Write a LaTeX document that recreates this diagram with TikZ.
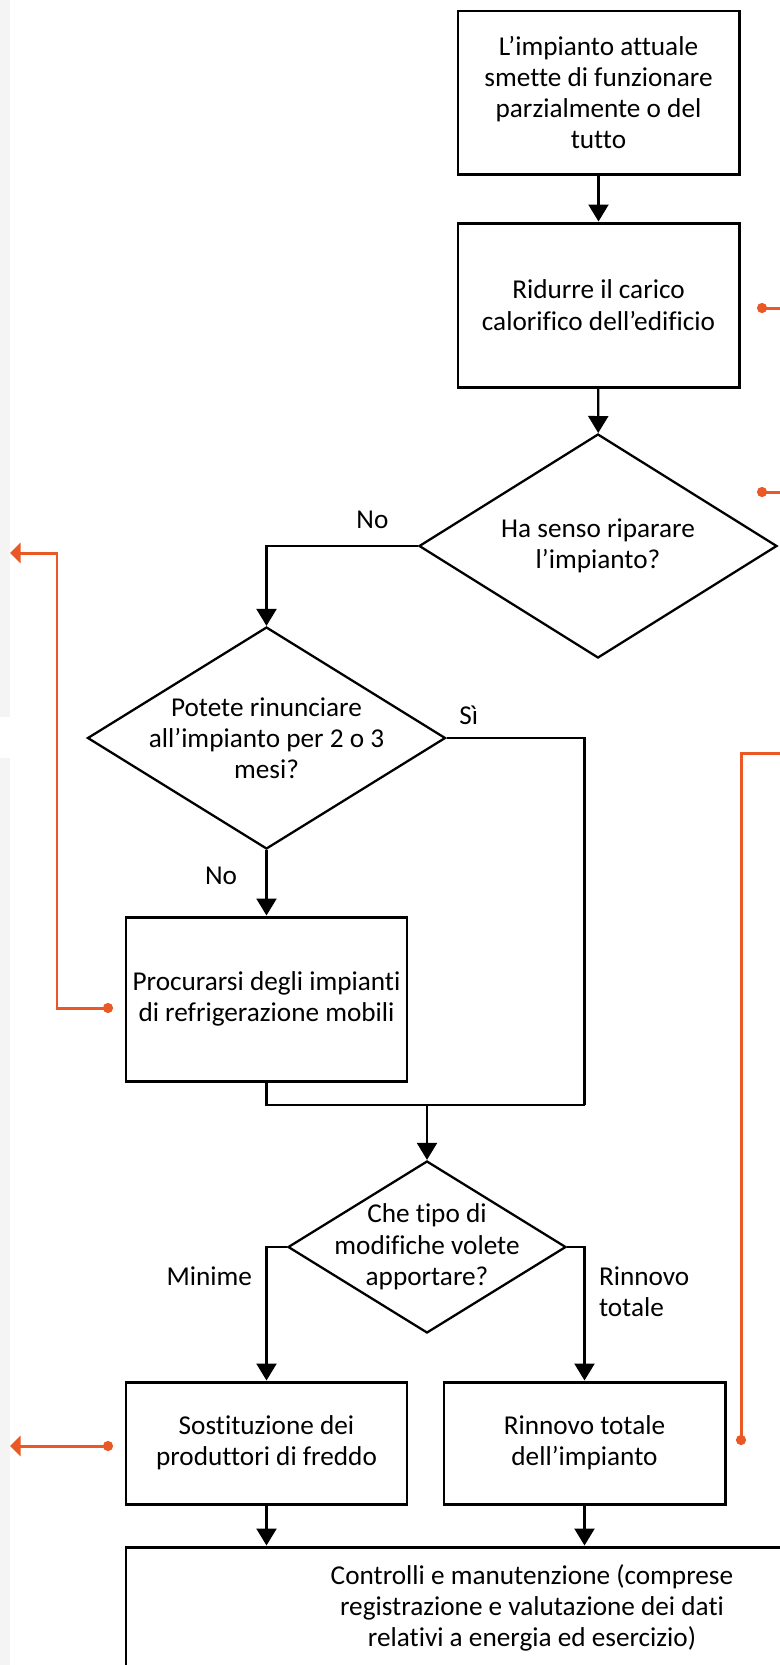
\documentclass[tikz,border=0pt]{standalone}
\usepackage{fontspec}
\setmainfont{Carlito}[Ligatures={NoCommon}]
\usetikzlibrary{shapes.geometric,arrows.meta}
\definecolor{accent}{RGB}{233,88,37}
\definecolor{strip}{RGB}{244,244,244}

\begin{document}
\begin{tikzpicture}[
        font=\fontsize{15.5}{17.8}\selectfont,
        box/.style={draw, line width=1.7pt, minimum width=5.62cm, align=center, inner sep=0pt},
        choice/.style={draw, diamond, line width=1.3pt, align=center, inner sep=-1cm},
        flow/.style={line width=1.3pt, -{Triangle[length=0.34cm,width=0.4cm]}},
        link/.style={accent, line width=1.7pt}
    ]
            \clip (0,0) rectangle (15.6,-33.3);
            \fill[strip] (0,0) rectangle (0.2,-14.34);
            \fill[strip] (0,-15.16) rectangle (0.2,-33.3);

            \node[box, minimum height=3.26cm] (stop) at (11.97,-1.85)
                {L’impianto attuale\\smette di funzionare\\parzialmente o del\\tutto};
            \node[box, minimum height=3.28cm] (carico) at (11.97,-6.1)
                {Ridurre il carico\\calorifico dell’edificio};
            \node[choice, minimum width=7.16cm, minimum height=4.48cm] (riparare) at (11.96,-10.92)
                {Ha senso riparare\\l’impianto?};
            \node[choice, minimum width=7.16cm, minimum height=4.44cm] (rinuncia) at (5.33,-14.76)
                {Potete rinunciare\\all’impianto per 2 o 3\\mesi?};
            \node[box, minimum height=3.28cm] (mobili) at (5.33,-19.98)
                {Procurarsi degli impianti\\di refrigerazione mobili};
            \coordinate (merge) at (8.54,-22.1);
            \node[choice, minimum width=5.56cm, minimum height=3.44cm] (modifiche) at (8.54,-24.94)
                {Che tipo di\\modifiche volete\\apportare?};
            \node[box, minimum height=2.44cm] (sostituzione) at (5.33,-28.86)
                {Sostituzione dei\\produttori di freddo};
            \node[box, minimum height=2.44cm] (rinnovo) at (11.69,-28.86)
                {Rinnovo totale\\dell’impianto};
            \node[box, minimum width=16.24cm, minimum height=2.44cm] (controlli) at (10.64,-32.16)
                {Controlli e manutenzione (comprese\\registrazione e valutazione dei dati\\relativi a energia ed esercizio)};
            \coordinate (bend) at (rinnovo |- merge);

            \draw[flow] (stop) -- (carico);
            \draw[flow] (carico) -- (riparare);
            \draw[flow] (riparare.west) -| node[pos=0.15, above=0.2cm]{No} (rinuncia.north);
            \draw[flow] (rinuncia) -- node[pos=0.39, left=0.45cm]{No} (mobili);
            \draw[line width=1.3pt] (rinuncia.east) -| node[pos=0.08, above=0.13cm]{Sì} (bend);
            \draw[line width=1.3pt] (mobili.south) |- (bend);
            \draw[flow] (merge) -- (modifiche.north);
            \draw[flow] (modifiche.west) -| node[pos=0.61, left=0.15cm]{Minime} (sostituzione.north);
            \draw[flow] (modifiche.east) -| node[pos=0.667, right=0.15cm, align=left]{Rinnovo\\totale} (rinnovo.north);
            \draw[flow] (sostituzione) -- (sostituzione.south |- controlli.north);
            \draw[flow] (rinnovo) -- (rinnovo.south |- controlli.north);

            \coordinate (dotA) at (15.14,-6.16);
            \coordinate (endA) at (15.8,-6.16);
            \coordinate (dotB) at (15.14,-9.84);
            \coordinate (endB) at (15.8,-9.84);
            \coordinate (dotC) at (2.26,-20.16);
            \coordinate (turnC) at (1.14,-11.06);
            \coordinate (tipC) at (0.2,-11.06);
            \coordinate (dotD) at (2.26,-28.92);
            \coordinate (tipD) at (0.2,-28.92);
            \coordinate (dotE) at (14.82,-28.9);
            \coordinate (turnE) at (14.82,-15.06);
            \coordinate (endE) at (15.8,-15.06);
            \draw[link, {Circle[length=0.2cm]}-] (dotA) -- (endA);
            \draw[link, {Circle[length=0.2cm]}-] (dotB) -- (endB);
            \draw[link, {Circle[length=0.2cm]}-{Triangle[length=0.21cm,width=0.4cm]}] (dotC) -| (turnC) -- (tipC);
            \draw[link, {Circle[length=0.2cm]}-{Triangle[length=0.21cm,width=0.4cm]}] (dotD) -- (tipD);
            \draw[link, {Circle[length=0.2cm]}-] (dotE) -- (turnE) -- (endE);
\end{tikzpicture}
\end{document}
